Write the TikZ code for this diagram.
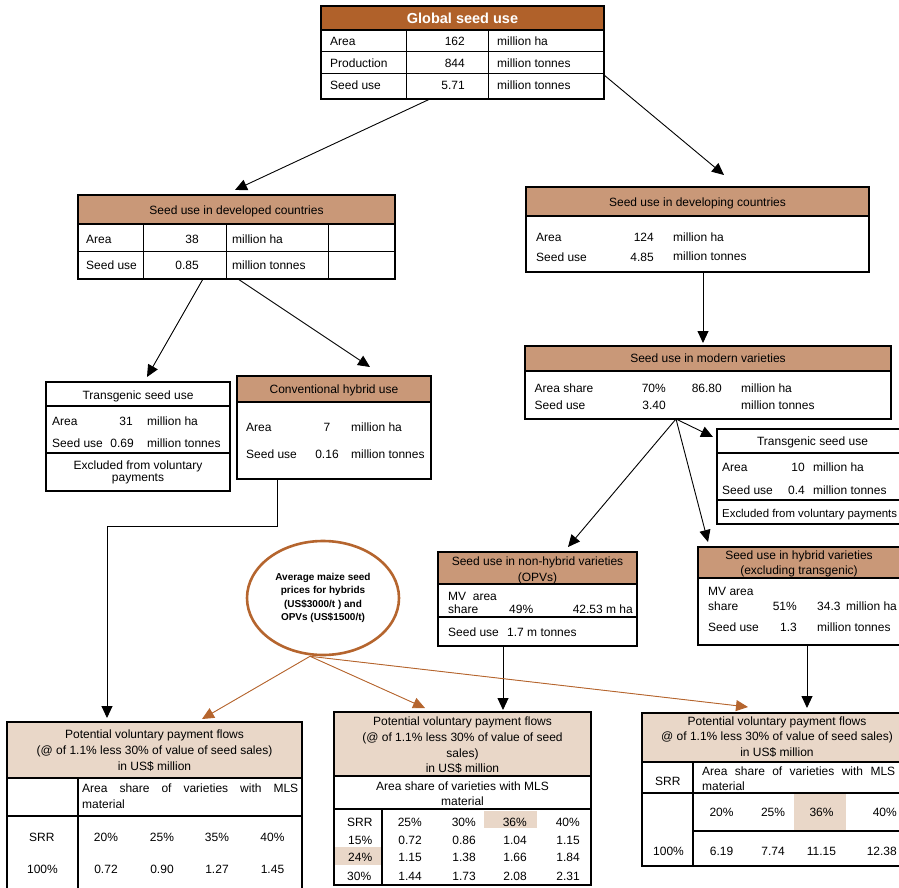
\documentclass[tikz,border=0pt]{standalone}
\usepackage{fontspec}
\setmainfont{Liberation Sans}
\usetikzlibrary{positioning,calc,arrows.meta,shapes.geometric}

\definecolor{darkbrown}{RGB}{176,97,42}
\definecolor{headtan}{RGB}{201,152,120}
\definecolor{paytan}{RGB}{233,215,200}
\definecolor{ovalbrown}{RGB}{181,101,46}

\tikzset{
  frame/.style={draw, line width=2.4pt, inner sep=0pt, outer sep=0pt},
  sep/.style={line width=1.6pt},
  hair/.style={line width=1pt},
  txt/.style={inner sep=0pt, font=\fontsize{12}{15}\selectfont, text height=8.6pt, text depth=0pt},
  lbl/.style={txt, anchor=west},
  num/.style={txt, anchor=east},
  blk/.style={inner sep=0pt, align=center, font=\fontsize{12}{15.5}\selectfont},
  just/.style={inner sep=0pt, align=justify, anchor=north west, font=\fontsize{12}{16}\selectfont},
  arr/.style={-{Triangle[length=12pt,width=11pt]}, line width=0.9pt},
  barr/.style={-{Triangle[length=12pt,width=11pt]}, line width=0.9pt, draw=ovalbrown, fill=ovalbrown},
}

\begin{document}
\begin{tikzpicture}[x=1pt,y=-1pt]
    \useasboundingbox (0,0) rectangle (899,888);
    \clip (0,0) rectangle (899,888);

    % header fills
    \fill[darkbrown] (321,6) rectangle (604,30);
    \fill[headtan] (78,195) rectangle (395,224);
    \fill[headtan] (526,187) rectangle (869,216);
    \fill[headtan] (237,376) rectangle (431,402);
    \fill[headtan] (525,346) rectangle (891,371);
    \fill[headtan] (438,552) rectangle (637,584);
    \fill[headtan] (698,547) rectangle (905,578);
    \fill[paytan] (7,722) rectangle (302,778);
    \fill[paytan] (334,712) rectangle (591,776);
    \fill[paytan] (642,713) rectangle (912,762);
    \fill[paytan] (484,811) rectangle (537,828);
    \fill[paytan] (335,847) rectangle (382,865);
    \fill[paytan] (794,793) rectangle (846,831);

    % boxes
    \node[frame, minimum width=283pt, minimum height=93pt] (glob) at (462.5,52.5) {};
    \node[frame, minimum width=317pt, minimum height=84pt] (devd) at (236.5,237) {};
    \node[frame, minimum width=343pt, minimum height=85pt] (devg) at (697.5,229.5) {};
    \node[frame, minimum width=184pt, minimum height=109pt] (trL) at (138,436.5) {};
    \node[frame, minimum width=194pt, minimum height=103pt] (conv) at (334,427.5) {};
    \node[frame, minimum width=366pt, minimum height=73pt] (modv) at (708,382.5) {};
    \node[frame, minimum width=191pt, minimum height=95pt] (trR) at (812.5,476.5) {};
    \node[frame, minimum width=199pt, minimum height=94pt] (nhy) at (537.5,599) {};
    \node[frame, minimum width=207pt, minimum height=98pt] (hyb) at (801.5,596) {};
    \node[frame, minimum width=295pt, minimum height=183pt] (pay1) at (154.5,813.5) {};
    \node[frame, minimum width=257pt, minimum height=173pt] (pay2) at (462.5,798.5) {};
    \node[frame, minimum width=270pt, minimum height=153pt] (pay3) at (777,789.5) {};
    \node[ellipse, draw=ovalbrown, line width=2.6pt, minimum width=152pt, minimum height=114pt,
          inner sep=0pt, align=center, font=\bfseries\fontsize{10}{13.3}\selectfont] (price) at (323,598)
          {Average maize seed\\prices for hybrids\\(US\$3000/t ) and\\OPVs (US\$1500/t)};

    % global seed use
    \draw[sep] (321,30) -- (604,30);
    \draw[hair] (321,52) -- (604,52) (321,74) -- (604,74) (406,30) -- (406,99) (488,30) -- (488,99);
    \node[inner sep=0pt, text=white, font=\bfseries\fontsize{14.5}{16}\selectfont] (globt) at (462.5,18) {Global seed use};
    \path (330,41.5) node[lbl] (ga1) {Area} (465,41.5) node[num] (ga2) {162} (497,41.5) node[lbl] (ga3) {million ha}
          (330,63) node[lbl] (gp1) {Production} (465,63) node[num] (gp2) {844} (497,63) node[lbl] (gp3) {million tonnes}
          (330,85) node[lbl] (gs1) {Seed use} (465,85) node[num] (gs2) {5.71} (497,85) node[lbl] (gs3) {million tonnes};

    % developed countries
    \draw[sep] (78,224) -- (395,224);
    \draw[hair] (78,251) -- (395,251) (143,224) -- (143,279) (226,224) -- (226,279) (328,224) -- (328,279);
    \node[txt] (devdt) at (236.5,210) {Seed use in developed countries};
    \path (86,239) node[lbl] (da1) {Area} (199,239) node[num] (da2) {38} (232,239) node[lbl] (da3) {million ha}
          (86,265.5) node[lbl] (ds1) {Seed use} (199,265.5) node[num] (ds2) {0.85} (232,265.5) node[lbl] (ds3) {million tonnes};

    % developing countries
    \draw[sep] (526,216) -- (869,216);
    \node[txt] (devgt) at (697.5,202.5) {Seed use in developing countries};
    \path (536,237) node[lbl] (ea1) {Area} (654,237) node[num] (ea2) {124} (673,237) node[lbl] (ea3) {million ha}
          (536,257) node[lbl] (es1) {Seed use} (654,257) node[num] (es2) {4.85} (673,256.5) node[lbl] (es3) {million tonnes};

    % transgenic, developed
    \draw[sep] (46,406) -- (230,406) (46,453) -- (230,453);
    \node[txt] (trLt) at (138,395) {Transgenic seed use};
    \path (52,421) node[lbl] (ta1) {Area} (133,421) node[num] (ta2) {31} (147,421) node[lbl] (ta3) {million ha}
          (52,443.5) node[lbl] (ts1) {Seed use} (134,443.5) node[num] (ts2) {0.69} (147,443.5) node[lbl] (ts3) {million tonnes};
    \node[blk, font=\fontsize{12}{12.5}\selectfont] (trLx) at (138,472.5) {Excluded from voluntary\\payments};

    % conventional hybrids
    \draw[sep] (237,402) -- (431,402);
    \node[txt] (convt) at (334,389) {Conventional hybrid use};
    \path (246,427.5) node[lbl] (ca1) {Area} (327,427.5) node[txt] (ca2) {7} (351,427.5) node[lbl] (ca3) {million ha}
          (246,454.5) node[lbl] (cs1) {Seed use} (327,454.5) node[txt] (cs2) {0.16} (351,454.5) node[lbl] (cs3) {million tonnes};

    % modern varieties
    \draw[sep] (525,371) -- (891,371);
    \node[txt] (modvt) at (708,358.5) {Seed use in modern varieties};
    \path (534.5,388.5) node[lbl] (ma1) {Area share} (666,388.5) node[num] (ma2) {70\%} (722,388.5) node[num] (ma3) {86.80}
          (741,388.5) node[lbl] (ma4) {million ha}
          (534.5,405) node[lbl] (ms1) {Seed use} (666,405) node[num] (ms2) {3.40} (741,405) node[lbl] (ms3) {million tonnes};

    % transgenic, developing
    \draw[sep] (717,453) -- (908,453) (717,500) -- (908,500);
    \node[txt] (trRt) at (812.5,441) {Transgenic seed use};
    \path (722,467.5) node[lbl] (ra1) {Area} (805,467.5) node[num] (ra2) {10} (813,467.5) node[lbl] (ra3) {million ha}
          (722,490) node[lbl] (rs1) {Seed use} (805,490) node[num] (rs2) {0.4} (813,490) node[lbl] (rs3) {million tonnes}
          (722,513.5) node[lbl, font=\fontsize{11.4}{14}\selectfont] (rx) {Excluded from voluntary payments};

    % non-hybrid varieties
    \draw[sep] (438,584) -- (637,584) (438,617) -- (637,617);
    \node[blk, font=\fontsize{12}{16}\selectfont] (nhyt) at (537.5,570) {Seed use in non-hybrid varieties\\(OPVs)};
    \path (448,596.5) node[lbl] (na1) {MV\ \ area} (448,609.5) node[lbl] (na2) {share}
          (509,609.5) node[lbl] (na3) {49\%} (633,609.5) node[num] (na4) {42.53 m ha}
          (448,632) node[lbl] (ns1) {Seed use} (507,632) node[lbl] (ns2) {1.7 m tonnes};

    % hybrid varieties
    \draw[sep] (698,578) -- (905,578);
    \node[blk, font=\fontsize{12}{14.5}\selectfont] (hybt) at (799,564) {Seed use in hybrid varieties\\(excluding transgenic)};
    \path (708,591.5) node[lbl] (ha1) {MV area} (708,606.5) node[lbl] (ha2) {share}
          (797,606.5) node[num] (ha3) {51\%} (817,606.5) node[lbl] (ha4) {34.3} (846,606.5) node[lbl] (ha5) {million ha}
          (708,627.5) node[lbl] (hs1) {Seed use} (797,627.5) node[num] (hs2) {1.3} (817,627.5) node[lbl] (hs3) {million tonnes};

    % payment flows, developed
    \draw[sep] (7,778) -- (302,778) (7,816) -- (302,816) (78,778) -- (78,905);
    \node[blk, font=\fontsize{12}{16}\selectfont] (pay1t) at (154.5,751)
        {Potential voluntary payment flows\\(@ of 1.1\% less 30\% of value of seed sales)\\in US\$ million};
    \node[just, text width=216pt] (pay1s) at (82,784) {Area share of varieties with MLS\linebreak material};
    \path (29,837) node[lbl] (p1r) {SRR} (106,837) node[txt] (p1a) {20\%} (162,837) node[txt] (p1b) {25\%}
          (217,837) node[txt] (p1c) {35\%} (272.5,837) node[txt] (p1d) {40\%}
          (42.5,869) node[txt] (p1s) {100\%} (106,869) node[txt] (p1e) {0.72} (162,869) node[txt] (p1f) {0.90}
          (217,869) node[txt] (p1g) {1.27} (272.5,869) node[txt] (p1h) {1.45};

    % payment flows, non-hybrid
    \draw[sep] (334,776) -- (591,776) (334,809) -- (591,809) (382,809) -- (382,885);
    \node[blk, font=\fontsize{12}{15.7}\selectfont] (pay2t) at (462.5,745.5)
        {Potential voluntary payment flows\\(@ of 1.1\% less 30\% of value of seed\\sales)\\in US\$ million};
    \node[blk, font=\fontsize{12}{15}\selectfont] (pay2s) at (462.5,793.5) {Area share of varieties with MLS\\material};
    \path (347,822) node[lbl] (q0) {SRR} (422,822) node[num] (q1) {25\%} (476,822) node[num] (q2) {30\%}
          (527,822) node[num] (q3) {36\%} (580,822) node[num] (q4) {40\%}
          (348,840) node[lbl] (r0) {15\%} (422,840) node[num] (r1) {0.72} (476,840) node[num] (r2) {0.86}
          (527,840) node[num] (r3) {1.04} (580,840) node[num] (r4) {1.15}
          (348,857.5) node[lbl] (s0) {24\%} (422,857.5) node[num] (s1) {1.15} (476,857.5) node[num] (s2) {1.38}
          (527,857.5) node[num] (s3) {1.66} (580,857.5) node[num] (s4) {1.84}
          (347,876.5) node[lbl] (t0) {30\%} (422,876.5) node[num] (t1) {1.44} (476,876.5) node[num] (t2) {1.73}
          (527,876.5) node[num] (t3) {2.08} (580,876.5) node[num] (t4) {2.31};

    % payment flows, hybrid
    \draw[sep] (642,762) -- (912,762) (642,793) -- (912,793) (693,831) -- (912,831) (693,762) -- (693,866);
    \node[blk, font=\fontsize{12}{15.3}\selectfont] (pay3t) at (777,737)
        {Potential voluntary payment flows\\@ of 1.1\% less 30\% of value of seed sales)\\in US\$ million};
    \node[lbl] (p3r) at (655,781) {SRR};
    \node[just, text width=193pt, font=\fontsize{12}{15}\selectfont] (pay3s) at (702,767) {Area share of varieties with MLS\linebreak material};
    \path (721.5,812.5) node[txt] (u1) {20\%} (773,812.5) node[txt] (u2) {25\%} (821.5,812.5) node[txt] (u3) {36\%}
          (897,812.5) node[num] (u4) {40\%}
          (653,851.5) node[lbl] (v0) {100\%} (721.5,851.5) node[txt] (v1) {6.19} (773,851.5) node[txt] (v2) {7.74}
          (821.5,851.5) node[txt] (v3) {11.15} (897,851.5) node[num] (v4) {12.38};

    % connectors
    \draw[arr] ($(glob.south)+(-32.5,0)$) -- ($(devd.north)+(-1.5,-5)$);
    \draw[arr] ($(glob.south east)+(0,-24)$) -- ($(devg.north)+(26.5,-12)$);
    \draw[arr] ($(devd.south)+(-33.5,0)$) -- ($(trL.north)+(9,-5)$);
    \draw[arr] ($(devd.south)+(1.5,0)$) -- ($(conv.north)+(36,-9)$);
    \draw[arr] ($(conv.south)+(-57,0)$) -- ++(0,47) -| ($(pay1.north)+(-47.5,-4)$);
    \draw[arr] ($(devg.south)+(5.5,0)$) -- ($(modv.north)+(-5,-3)$);
    \coordinate (fork) at ($(modv.south)+(-32,0)$);
    \draw[arr] (fork) -- ($(trR.west)+(-4,-39.5)$);
    \draw[arr] (fork) -- ($(nhy.north)+(30.5,-5)$);
    \draw[arr] (fork) -- ($(hyb.north)+(-93.5,-5)$);
    \draw[arr] ($(nhy.south)+(-34.5,0)$) -- ($(pay2.north)+(40.5,-2)$);
    \draw[arr] ($(hyb.south)+(5.5,0)$) -- ($(pay3.north)+(30,-5)$);
    \coordinate (pfoot) at ($(price.south)+(-13,0)$);
    \draw[barr] (pfoot) -- ($(pay1.north)+(47.5,-3)$);
    \draw[barr] (pfoot) -- ($(pay2.north)+(-37.5,-4)$);
    \draw[barr] (pfoot) -- ($(pay3.north)+(-29,-6)$);
\end{tikzpicture}
\end{document}
